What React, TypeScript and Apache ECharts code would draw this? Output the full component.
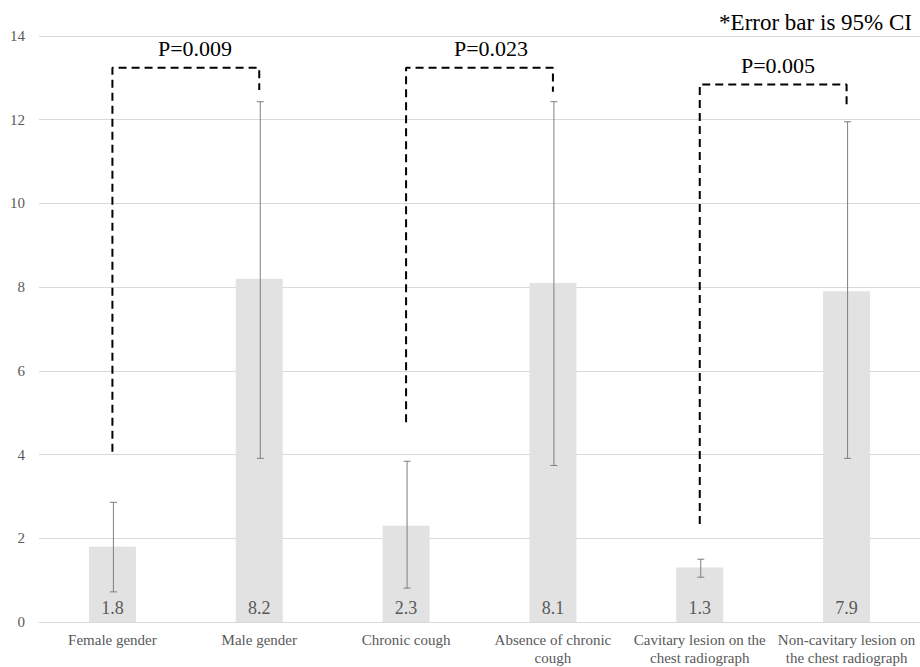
import React, { useEffect, useRef } from "react";
import * as echarts from "echarts";

const categories = [
  "Female gender",
  "Male gender",
  "Chronic cough",
  "Absence of chronic\ncough",
  "Cavitary lesion on the\nchest radiograph",
  "Non-cavitary lesion on\nthe chest radiograph",
];
const values = [1.8, 8.2, 2.3, 8.1, 1.3, 7.9];
const ciLow = [0.72, 3.91, 0.81, 3.74, 1.07, 3.91];
const ciHigh = [2.86, 12.43, 3.84, 12.43, 1.5, 11.95];

// significance brackets
const bracketFrom = [0, 2, 4];
const bracketTo = [1, 3, 5];
const bracketLeftY = [4.07, 4.77, 2.34];
const bracketTopY = [13.24, 13.24, 12.84];
const bracketRightY = [12.71, 12.67, 12.31];
const pLabels = ["P=0.009", "P=0.023", "P=0.005"];
const pLabelPos = [
  [195, 48],
  [491, 48],
  [778, 65],
];

const FONT = "Liberation Serif";

export default function App() {
  const ref = useRef<HTMLDivElement>(null);
  useEffect(() => {
    document.body.style.margin = "0";
    if (!ref.current) return;
    const chart = echarts.init(ref.current, null, { renderer: "svg" });

    const bracketSeries = bracketFrom.map((f, i) => ({
      type: "line",
      data: [
        [f, bracketLeftY[i]],
        [f, bracketTopY[i]],
        [bracketTo[i], bracketTopY[i]],
        [bracketTo[i], bracketRightY[i]],
      ],
      symbol: "none",
      lineStyle: { color: "#000", width: 2, type: [8, 5] },
      z: 5,
      silent: true,
    }));

    chart.setOption({
      animation: false,
      grid: { left: 39, right: 0, top: 36, bottom: 44, containLabel: false },
      xAxis: {
        type: "category",
        data: categories,
        axisLine: { lineStyle: { color: "#d9d9d9", width: 1 } },
        axisTick: { show: false },
        axisLabel: {
          color: "#595959",
          fontFamily: FONT,
          fontSize: 15,
          lineHeight: 18,
          margin: 9,
          interval: 0,
        },
      },
      yAxis: {
        type: "value",
        min: 0,
        max: 14,
        interval: 2,
        axisLine: { show: false },
        axisTick: { show: false },
        splitLine: { lineStyle: { color: "#d9d9d9", width: 1 } },
        axisLabel: {
          color: "#595959",
          fontFamily: FONT,
          fontSize: 15,
          margin: 14,
        },
      },
      series: [
        {
          type: "bar",
          data: values,
          barWidth: 47,
          itemStyle: { color: "#e2e2e2" },
          label: {
            show: true,
            position: "insideBottom",
            distance: 5,
            color: "#595959",
            fontFamily: FONT,
            fontSize: 18,
            formatter: (p: any) => Number(p.value).toFixed(1),
          },
          z: 2,
        },
        {
          type: "custom",
          data: values.map((_, i) => [i, ciLow[i], ciHigh[i]]),
          z: 3,
          renderItem: (params: any, api: any) => {
            const x = api.value(0);
            const lo = api.coord([x, api.value(1)]);
            const hi = api.coord([x, api.value(2)]);
            const cx = lo[0] + 1;
            const half = 3.5;
            const style = { stroke: "#7f7f7f", lineWidth: 1 };
            return {
              type: "group",
              children: [
                { type: "line", shape: { x1: cx, y1: lo[1], x2: cx, y2: hi[1] }, style },
                { type: "line", shape: { x1: cx - half, y1: lo[1], x2: cx + half, y2: lo[1] }, style },
                { type: "line", shape: { x1: cx - half, y1: hi[1], x2: cx + half, y2: hi[1] }, style },
              ],
            };
          },
        },
        ...bracketSeries,
      ],
      graphic: [
        ...pLabels.map((t, i) => ({
          type: "text",
          x: pLabelPos[i][0],
          y: pLabelPos[i][1],
          style: {
            text: t,
            fill: "#000",
            fontFamily: FONT,
            fontSize: 22,
            align: "center",
            verticalAlign: "middle",
          },
        })),
        {
          type: "text",
          x: 912,
          y: 22,
          style: {
            text: "*Error bar is 95% CI",
            fill: "#000",
            fontFamily: FONT,
            fontSize: 23,
            align: "right",
            verticalAlign: "middle",
          },
        },
      ],
    });
    return () => chart.dispose();
  }, []);
  return <div ref={ref} style={{ width: 920, height: 667 }} />;
}
